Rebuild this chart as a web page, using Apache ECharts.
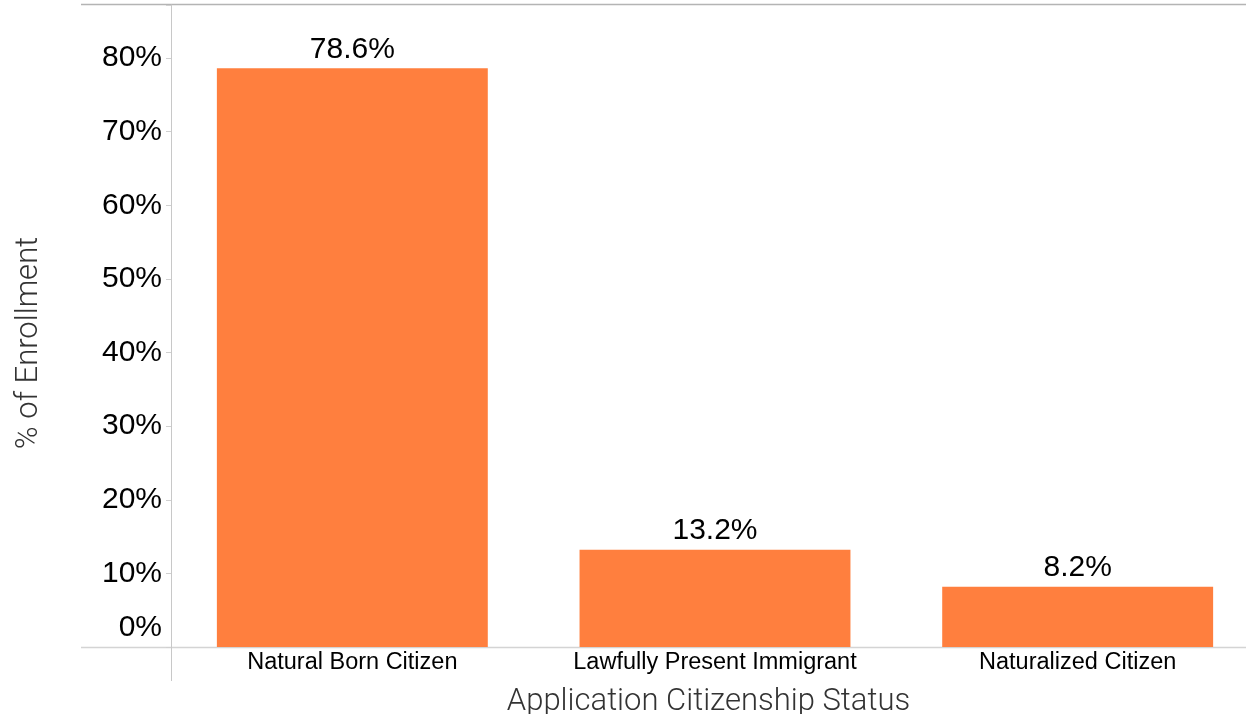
<!DOCTYPE html>
<html>
<head>
<meta charset="utf-8">
<script src="https://cdn.jsdelivr.net/npm/echarts@6/dist/echarts.min.js"></script>
<style>
html,body{margin:0;padding:0;background:#fff;}
#chart{width:1246px;height:714px;}
</style>
</head>
<body>
<div id="chart"></div>
<script>
const categories = ['Natural Born Citizen', 'Lawfully Present Immigrant', 'Naturalized Citizen'];
const enrollmentPct = [78.6, 13.2, 8.2];
const yTicks = [0, 10, 20, 30, 40, 50, 60, 70, 80];
const xTitle = 'Application Citizenship Status';
const yTitle = '% of Enrollment';

const chart = echarts.init(document.getElementById('chart'));
const labelFont = '"Liberation Sans", Arial, sans-serif';
const titleFont = 'Roboto, "Open Sans", sans-serif';

chart.setOption({
  animation: false,
  grid: { left: 171, right: -13, top: 5, bottom: 67, containLabel: false, outerBoundsMode: 'none' },
  xAxis: {
    type: 'category',
    data: categories,
    name: xTitle,
    nameLocation: 'middle',
    nameGap: 40,
    nameTextStyle: { fontFamily: titleFont, fontWeight: 300, fontSize: 31, color: '#333', padding: [0, 13, 0, 0] },
    axisLine: { show: false },
    axisTick: { show: false },
    axisLabel: { interval: 0, hideOverlap: false, fontFamily: labelFont, fontSize: 23.5, color: '#000', margin: 4 }
  },
  yAxis: {
    type: 'value',
    min: 0,
    max: 87.2,
    interval: 10,
    name: yTitle,
    nameLocation: 'middle',
    nameGap: 126,
    nameRotate: 90,
    nameTextStyle: { fontFamily: titleFont, fontWeight: 300, fontSize: 31, color: '#333', padding: [0, 0, 0, -34] },
    axisLine: { show: true, lineStyle: { color: '#c8c8c8', width: 1 } },
    axisTick: { show: true, length: 5, lineStyle: { color: '#d0d0d0' } },
    splitLine: { show: false },
    axisLabel: {
      fontFamily: labelFont, fontSize: 30, color: '#000', margin: 9,
      formatter: function (v) {
        if (yTicks.indexOf(v) < 0) return '';
        return v === 0 ? '{z|0%}' : v + '%';
      },
      rich: { z: { fontFamily: labelFont, fontSize: 30, color: '#000', padding: [0, 0, 38, 0] } }
    }
  },
  series: [{
    type: 'bar',
    data: enrollmentPct,
    barWidth: '74.7%',
    itemStyle: { color: '#ff7f3e' },
    label: {
      show: true, position: 'top', distance: 4,
      fontFamily: labelFont, fontSize: 30, color: '#000',
      formatter: function (p) { return p.value.toFixed(1) + '%'; }
    }
  }],
  graphic: [
    { type: 'line', shape: { x1: 81, y1: 4.5, x2: 1246, y2: 4.5 }, style: { stroke: '#b4b4b4', lineWidth: 1.5 } },
    { type: 'line', shape: { x1: 81, y1: 647.5, x2: 1246, y2: 647.5 }, style: { stroke: '#d4d4d4', lineWidth: 1.5 } },
    { type: 'line', shape: { x1: 171.5, y1: 647, x2: 171.5, y2: 681 }, style: { stroke: '#c8c8c8', lineWidth: 1 } }
  ]
});
</script>
</body>
</html>
